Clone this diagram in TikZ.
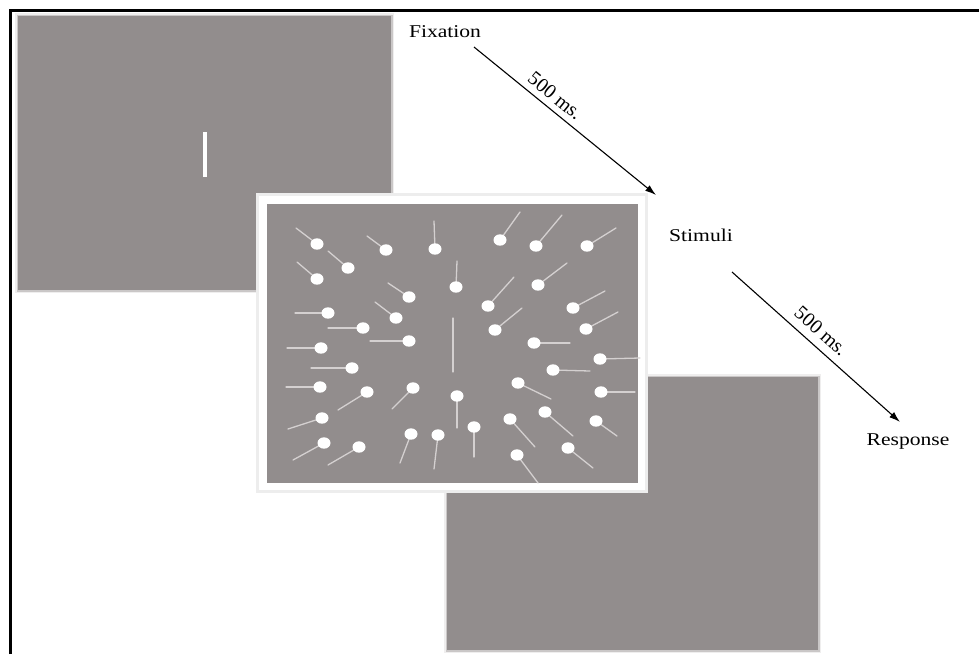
\documentclass[tikz,border=0pt]{standalone}
\usepackage{fontspec}
\setmainfont{Liberation Serif}
\usetikzlibrary{arrows.meta}
\begin{document}
\begin{tikzpicture}[x=1pt, y=-1pt,
  screen label/.style={font=\fontsize{18}{20}\selectfont, xscale=1.2, inner sep=0pt, anchor=base},
  delay label/.style={font=\fontsize{20}{22}\selectfont, inner sep=0pt},
  timing arrow/.style={line width=1.1pt, -{Latex[length=11pt,width=7pt]}}]
% Trial sequence: fixation, stimuli, response
\providecommand{\trialPanelColor}{rgb,255:red,146;green,141;blue,141}
\providecommand{\trialStickColor}{rgb,255:red,212;green,208;blue,208}
\providecommand{\trialStickWidth}{1.3pt}
\providecommand{\trialFrameWidth}{3pt}
\useasboundingbox (0,0) rectangle (979,654);
% Outer frame, only left and top edges are visible
\draw[line width=\trialFrameWidth] (10,654) -- (10,10) -- (979,10);
% Fixation screen, soft edge
\begin{scope}[fill={\trialPanelColor}]
  \fill[opacity=0.15] (15,13) rectangle (394,293);
  \fill[opacity=0.4] (16.5,14.5) rectangle (392.5,291.5);
  \fill (18,16) rectangle (391,290);
\end{scope}
\fill[white] (203,132) rectangle (207,177);
% Response screen, soft edge
\begin{scope}[fill={\trialPanelColor}]
  \fill[opacity=0.15] (444,374) rectangle (821,653);
  \fill[opacity=0.4] (445.5,375.5) rectangle (819.5,651.5);
  \fill (447,377) rectangle (818,650);
\end{scope}
% Stimuli screen with white border
\fill[black!7] (256,193) rectangle (648,493);
\fill[white] (259,196) rectangle (645,490);
\fill[fill={\trialPanelColor}] (267,204) rectangle (638,483);
% Dots with their sticks: dot x/y, stick end x/y
\begin{scope}[draw={\trialStickColor}, line width=\trialStickWidth, line cap=round]
  \draw (453,318) -- (453,372);
  \foreach \dx/\dy/\ex/\ey in {
      317/244/296/228, 386/250/367/236, 435/249/434/221, 500/240/520/212,
      536/246/562/215, 587/246/616/228,
      348/268/328/251, 317/279/297/262, 456/287/457/261, 538/285/567/263,
      409/297/388/283, 488/306/514/277, 573/308/605/291,
      328/313/295/313, 396/318/375/302, 363/328/328/328, 495/330/522/308,
      586/329/618/312, 409/341/370/341, 534/343/570/343, 321/348/287/348,
      352/368/311/368, 553/370/590/371, 600/359/640/358,
      320/387/286/387, 367/392/338/410, 413/388/392/409, 457/396/457/428,
      518/383/551/399, 601/392/635/392,
      322/418/288/429, 545/412/573/436, 510/419/535/447, 596/421/617/436,
      474/427/474/457,
      324/443/293/460, 359/447/328/465, 411/434/400/463, 438/435/434/469,
      568/448/593/468, 517/455/538/483} {
    \draw (\dx,\dy) -- (\ex,\ey);
    \fill[white] (\dx,\dy) ellipse [x radius=6.5pt, y radius=5.7pt];
  }
\end{scope}
% Screen names
\node[screen label] (fixation) at (445,37) {Fixation};
\node[screen label] (stimuli) at (701,241) {Stimuli};
\node[screen label] (response) at (908,445) {Response};
% Timing arrows
\coordinate (fixOut) at (474,47);
\coordinate (stimIn) at (656,195);
\coordinate (stimOut) at (732,272);
\coordinate (respIn) at (900,422);
\draw[timing arrow] (fixOut) -- node[pos=0.40, sloped, above=6pt, delay label] {500 ms.} (stimIn);
\draw[timing arrow] (stimOut) -- node[pos=0.47, sloped, above=8pt, delay label] {500 ms.} (respIn);
\end{tikzpicture}
\end{document}
